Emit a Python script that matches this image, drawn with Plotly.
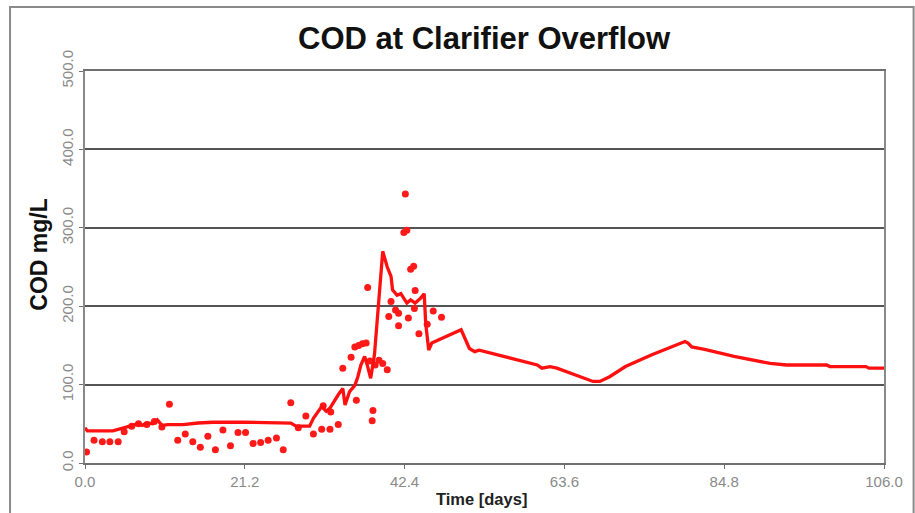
import plotly.graph_objects as go

# Simulated COD line (day, mg/L)
line_days = [0, 0.3, 3.7, 5.0, 6.3, 7.0, 7.6, 8.3, 9.0, 9.6, 10.2, 11.0, 13.0, 15.0, 17.0, 21.0,
             25.0, 27.3, 28.0, 29.8, 30.3, 31.4, 32.0, 32.5, 33.6, 34.2, 34.5, 35.1, 35.8, 36.2,
             36.6, 37.1, 37.5, 37.9, 38.4, 38.6, 39.5, 40.1, 40.6, 40.8, 41.4, 41.9, 42.3, 42.7,
             43.2, 43.8, 44.5, 45.0, 45.2, 45.6, 46.0, 47.3, 49.0, 49.9, 51.0, 51.7, 52.3, 56.0,
             60.0, 60.6, 61.7, 62.6, 67.4, 68.3, 69.6, 71.7, 75.2, 79.6, 80.0, 80.5, 82.2, 86.1,
             90.9, 93.1, 98.4, 98.8, 103.6, 104.0, 106.0]
line_cod = [45, 41, 41, 45, 48, 50, 48, 51, 50, 55, 48, 49, 49, 51, 52, 52,
            51, 51, 47, 47, 57, 72, 66, 70, 87, 95, 74, 91, 99, 110,
            125, 136, 123, 108, 138, 160, 270, 250, 238, 221, 214, 216, 210, 204,
            208, 204, 210, 216, 178, 144, 153, 159, 167, 170, 146, 142, 144, 135,
            125, 121, 123, 121, 104, 104, 110, 123, 138, 155, 153, 148, 145, 136,
            127, 125, 125, 123, 123, 121, 121]

# Measured COD points (day, mg/L)
obs_days = [0.2, 1.2, 2.3, 3.3, 4.4, 5.2, 6.2, 7.1, 8.2, 9.2, 10.2, 11.2, 12.3, 13.3, 14.3,
            15.3, 16.3, 17.3, 18.3, 19.3, 20.3, 21.3, 22.3, 23.3, 24.3, 25.4, 26.3, 27.3,
            28.3, 29.3, 30.3, 31.4, 31.6, 32.5, 32.6, 33.6, 34.2, 35.3, 35.8, 36.3, 36.8,
            37.3, 36.0, 37.5, 37.8, 38.1, 38.2, 38.5, 39.0, 39.5, 40.1, 40.3, 40.6, 41.2,
            41.6, 41.6, 42.3, 42.5, 42.7, 42.9, 43.2, 43.6, 43.7, 43.8, 44.3, 45.4, 46.2, 47.3]
obs_cod = [14, 29, 27, 27, 27, 40, 47, 50, 49, 53, 46, 75, 29, 37, 27,
           20, 34, 17, 42, 22, 39, 39, 25, 26, 29, 32, 17, 77,
           45, 60, 37, 43, 73, 43, 65, 49, 121, 135, 148, 150, 152,
           153, 80, 224, 130, 54, 67, 125, 131, 127, 119, 187, 206, 195,
           191, 175, 294, 343, 297, 185, 247, 251, 197, 220, 165, 177, 194, 186]

x_ticks = [0.0, 21.2, 42.4, 63.6, 84.8, 106.0]
y_ticks = [0, 100, 200, 300, 400, 500]

fig = go.Figure()
fig.add_trace(go.Scatter(x=obs_days, y=obs_cod, mode="markers",
                         marker=dict(color="#ff1a1a", size=7, line=dict(width=0)),
                         showlegend=False, cliponaxis=False))
fig.add_trace(go.Scatter(x=line_days, y=line_cod, mode="lines",
                         line=dict(color="#ff1010", width=3.3),
                         showlegend=False))

fig.update_layout(
    width=915, height=513,
    margin=dict(l=85, r=20, t=71, b=50),
    paper_bgcolor="white", plot_bgcolor="white",
    font=dict(family="Liberation Sans, Arial, sans-serif"),
    xaxis=dict(range=[0, 106], tickvals=x_ticks, ticktext=[f"{v:.1f}" for v in x_ticks],
               showgrid=False, zeroline=False, showline=True, linecolor="#707070",
               linewidth=2, mirror=True, ticks="outside", ticklen=4, tickcolor="#707070",
               tickfont=dict(size=15, color="#8a8a8a")),
    yaxis=dict(range=[0, 500], tickvals=y_ticks, ticktext=[f"{v:.1f}" for v in y_ticks],
               tickangle=-90, showgrid=True, gridcolor="#555555", gridwidth=1.5,
               zeroline=False, showline=True, linecolor="#8a8a8a", linewidth=2,
               mirror=True, ticks="outside", ticklen=4, tickcolor="#707070",
               tickfont=dict(size=15, color="#8a8a8a")),
    annotations=[
        dict(text="<b>COD at Clarifier Overflow</b>", xref="paper", yref="paper",
             x=0.5, y=(463 - 38) / 392, xanchor="center", yanchor="middle",
             showarrow=False, font=dict(size=31, color="#111111")),
        dict(text="<b>COD mg/L</b>", xref="paper", yref="paper",
             x=(38 - 85) / 810, y=(463 - 255) / 392, xanchor="center", yanchor="middle",
             textangle=-90, showarrow=False, font=dict(size=23, color="#111111")),
        dict(text="<b>Time [days]</b>", xref="paper", yref="paper",
             x=(487 - 85) / 810, y=(463 - 499) / 392, xanchor="center", yanchor="middle",
             showarrow=False, font=dict(size=16.5, color="#222222")),
    ],
    shapes=[
        dict(type="rect", xref="paper", yref="paper",
             x0=(9 - 85) / 810, x1=(925 - 85) / 810,
             y0=(463 - 530) / 392, y1=(463 - 7) / 392,
             line=dict(color="#8a8a8a", width=2), fillcolor="rgba(0,0,0,0)", layer="below"),
    ],
)

fig.write_html("out.html")
